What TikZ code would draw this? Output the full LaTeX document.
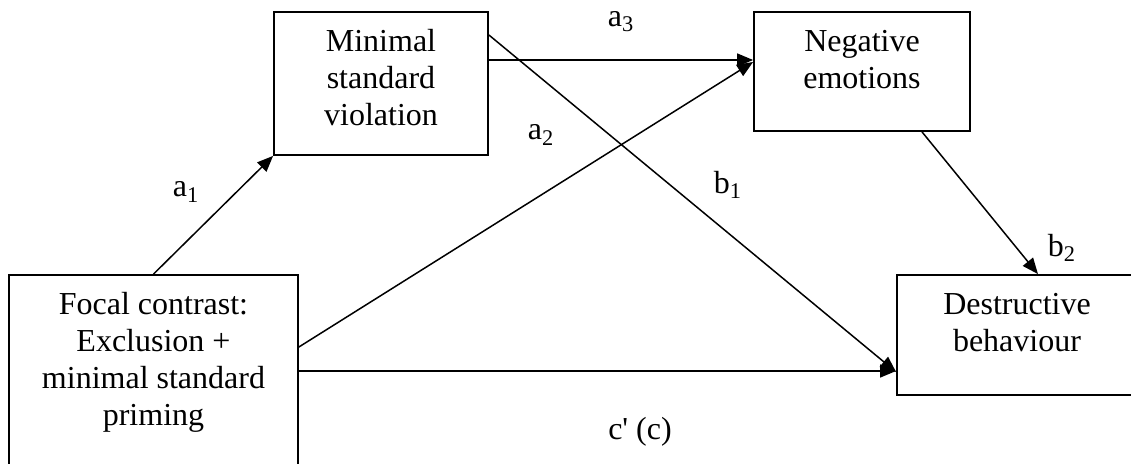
\documentclass[tikz,border=0pt]{standalone}
\usepackage{fontspec}
\setmainfont{Liberation Serif}
\usetikzlibrary{arrows.meta}
% box text: width, height, lines (first baseline 20pt below the top)
\newcommand{\boxtxt}[3]{\parbox[c][#2][t]{#1}{\centering\rule{0pt}{20pt}#3}}

\begin{document}
\begin{tikzpicture}[
  x=0.5pt, y=-0.5pt,
  var/.style={draw=black, line width=0.9pt, inner sep=0pt, font=\fontsize{16pt}{18.4pt}\selectfont},
  arr/.style={-{Triangle[length=8pt,width=6.5pt]}, line width=0.75pt},
  coef/.style={font=\fontsize{16pt}{18.4pt}\selectfont, inner sep=1pt}
]
\clip (0,0) rectangle (1131,464);

% variables
\node[var] (focal) at (153.5,377.5) {\boxtxt{144.5pt}{102.5pt}{Focal contrast:\\Exclusion +\\minimal standard\\priming}};
\node[var] (minimal) at (381,83.5) {\boxtxt{107pt}{71.5pt}{Minimal\\standard\\violation}};
\node[var] (negative) at (862,71.5) {\boxtxt{108pt}{59.5pt}{Negative\\emotions}};
\node[var] (destr) at (1017,335) {\boxtxt{120pt}{60pt}{Destructive\\behaviour}};

% paths
\draw[arr] (focal.north) -- (minimal.south west);
\draw[arr] ([yshift=15.25pt]focal.east) -- ([yshift=4.75pt]negative.west);
\draw[arr] ([yshift=11.75pt]minimal.east) -- ([yshift=5.75pt]negative.west);
\draw[arr] ([yshift=24.25pt]minimal.east) -- ([yshift=-18.5pt]destr.west);
\draw[arr] ([yshift=3.25pt]focal.east) -- ([yshift=-18pt]destr.west);
\draw[arr] ([xshift=30pt]negative.south) -- ([xshift=10.5pt]destr.north);

% coefficients
\node[coef] (la1) at (186,192) {a\textsubscript{1}};
\node[coef] (la2) at (541,135) {a\textsubscript{2}};
\node[coef] (la3) at (621,22) {a\textsubscript{3}};
\node[coef] (lb1) at (728,185) {b\textsubscript{1}};
\node[coef] (lb2) at (1062,248) {b\textsubscript{2}};
\node[coef] (lc) at (640,432) {c\textquotesingle{} (c)};
\end{tikzpicture}
\end{document}
